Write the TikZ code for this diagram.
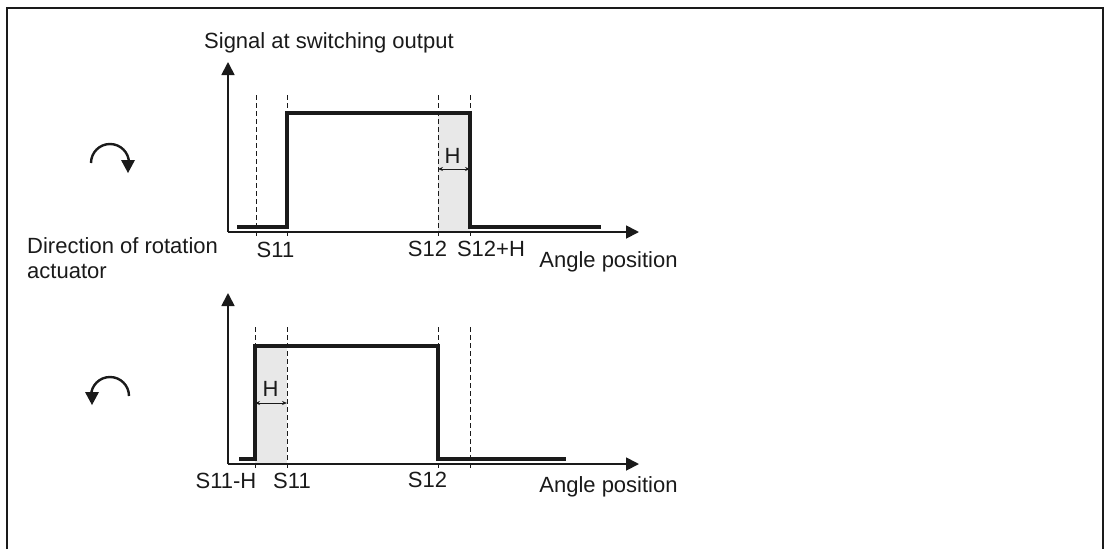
\documentclass[tikz,border=0pt]{standalone}
\usepackage{fontspec}
\setmainfont{Liberation Sans}
\usetikzlibrary{arrows.meta}
\definecolor{ink}{HTML}{1A1A1A}
\definecolor{shade}{HTML}{E8E8E8}
\begin{document}
\begin{tikzpicture}[x=1pt,y=-1pt,
  lbl/.style={font=\fontsize{22}{26}\selectfont, text=ink, inner sep=0pt, anchor=base},
  axisline/.style={draw=ink, line width=1.8pt, -{Triangle[length=13pt,width=13pt]}},
  signal/.style={draw=ink, line width=3.4pt, miter limit=10},
  guide/.style={draw=ink, line width=1pt, dash pattern=on 5pt off 3pt},
  hyst/.style={draw=ink, line width=1pt, {Stealth[length=5pt,width=4pt]}-{Stealth[length=5pt,width=4pt]}},
  rot/.style={draw=ink, line width=2.4pt},
  shadebox/.style={fill=shade, draw=none}]
\useasboundingbox (0,0) rectangle (1107,549);
% frame
\draw[ink, line width=1.6pt] (7,549) -- (7,8) -- (1103,8) -- (1103,549);

% ---------------- top chart ----------------
\coordinate (o1) at (228,232);
\coordinate (x1) at (639,232);
\coordinate (y1) at (228,62);
\fill[shadebox] (438,113) rectangle (470,232);
\foreach \xx in {256,287,438,470} \draw[guide] (\xx,95) -- (\xx,238);
\draw[axisline] (o1) -- (x1);
\draw[axisline] (o1) -- (y1);
\draw[signal] (237,227) -- (287,227) -- (287,113) -- (470,113) -- (470,227) -- (601,227);
\coordinate (h1a) at (438,169);
\coordinate (h1b) at (470,169);
\draw[hyst] (h1a) -- (h1b);
\node[lbl] (hlab1) at (452.5,163) {H};
\node[lbl, anchor=base west] (sig) at (204,48) {Signal at switching output};
\node[lbl] (s11a) at (275.5,257) {S11};
\node[lbl] (s12a) at (427.5,256) {S12};
\node[lbl] (s12h) at (491,256) {S12+H};
\node[lbl] (ang1) at (608.5,267) {Angle position};

% rotation arrow clockwise
\draw[rot] (91,163) arc[start angle=180, end angle=0, radius=19pt] -- (129,166);
\draw[ink, line width=0pt, -{Triangle[length=13pt,width=14pt]}] (128,159) -- (128,173);

% labels left
\node[lbl, anchor=base west] (dir1) at (27,253) {Direction of rotation};
\node[lbl, anchor=base west] (dir2) at (27,278) {actuator};

% ---------------- bottom chart ----------------
\coordinate (o2) at (228,464);
\coordinate (x2) at (639,464);
\coordinate (y2) at (228,293);
\fill[shadebox] (255,346) rectangle (287,464);
\foreach \xx in {255,287,438,470} \draw[guide] (\xx,327) -- (\xx,470);
\draw[axisline] (o2) -- (x2);
\draw[axisline] (o2) -- (y2);
\draw[signal] (239,459) -- (255,459) -- (255,346) -- (438,346) -- (438,459) -- (566,459);
\coordinate (h2a) at (255,403);
\coordinate (h2b) at (287,403);
\draw[hyst] (h2a) -- (h2b);
\node[lbl] (hlab2) at (270.5,396) {H};
\node[lbl] (s11h) at (226,488) {S11-H};
\node[lbl] (s11b) at (292,488) {S11};
\node[lbl] (s12b) at (427.5,487) {S12};
\node[lbl] (ang2) at (608.5,492) {Angle position};

% rotation arrow counter-clockwise
\draw[rot] (129,396) arc[start angle=0, end angle=180, radius=19pt] -- (91,398);
\draw[ink, line width=0pt, -{Triangle[length=13pt,width=14pt]}] (92,391) -- (92,405);
\end{tikzpicture}
\end{document}
